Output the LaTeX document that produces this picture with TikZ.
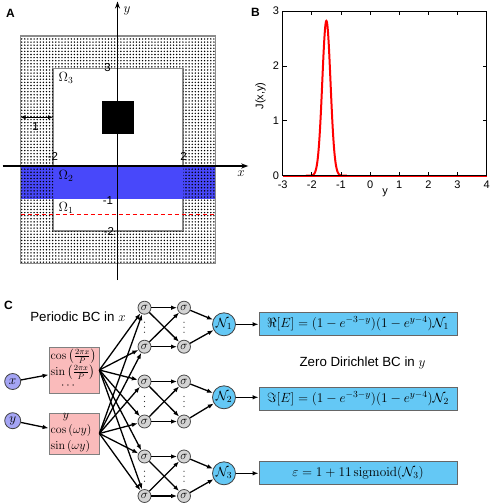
\RequirePackage{fix-cm}
\documentclass[tikz,border=0pt]{standalone}
\usepackage{amsmath}
\usepackage[no-math]{fontspec}
\setmainfont{Liberation Sans}
\usetikzlibrary{patterns,arrows.meta,calc}
\pgfdeclarepatternformonly{pmldots}{\pgfqpoint{-1.5pt}{-1.5pt}}{\pgfqpoint{1.5pt}{1.5pt}}{\pgfqpoint{3.1pt}{3.1pt}}{\pgfpathcircle{\pgfpointorigin}{0.8pt}\pgfusepath{fill}}
\definecolor{bandblue}{RGB}{72,72,250}
\definecolor{netcyan}{RGB}{100,200,245}
\definecolor{inlav}{RGB}{165,165,245}
\definecolor{boxpink}{RGB}{250,187,187}
\definecolor{siggray}{RGB}{212,212,212}
\definecolor{bordgray}{RGB}{140,140,140}
\begin{document}
\begin{tikzpicture}[x=1pt,y=-1pt,
  every node/.style={font=\fontsize{13.3}{16}\selectfont},
  panellab/.style={font=\fontsize{12}{14}\selectfont\bfseries},
  numlab/.style={font=\fontsize{11.5}{13}\selectfont,inner sep=0pt},
  ticklab/.style={font=\fontsize{11}{13}\selectfont,inner sep=0pt},
  axisline/.style={line width=1.2pt,-{Stealth[length=7pt,width=5pt]}},
  arr/.style={line width=1.3pt,-{Latex[length=6pt,width=4.5pt]}},
  inp/.style={circle,draw=black!75,fill=inlav,minimum size=16pt,inner sep=0pt,line width=0.8pt},
  sig/.style={circle,draw=black!70,fill=siggray,minimum size=13pt,inner sep=0pt,line width=0.8pt,font=\fontsize{12}{14}\selectfont},
  nnode/.style={circle,draw=black!75,fill=netcyan,minimum size=23pt,inner sep=0pt,line width=0.8pt},
  pbox/.style={rectangle,draw=black!50,fill=boxpink,minimum width=50pt,inner sep=0pt,line width=0.8pt},
  btext/.style={font=\fontsize{12}{14}\selectfont,inner sep=0pt},
  obox/.style={rectangle,draw=black!60,fill=netcyan,minimum width=198pt,minimum height=23pt,inner sep=0pt,line width=0.8pt},
  vdot/.style={fill=black!80}]
\useasboundingbox (0,0) rectangle (497,504);
\fill[white] (0,0) rectangle (497,504);

% ---------- Panel A ----------
\node[panellab] (labA) at (10.5,13) {A};
\begin{scope}[shift={(118pt,-166pt)},x=32.5pt,y=32.5pt]
  \draw[bordgray,line width=1.3pt] (-2,-2) rectangle (2,3);
  \fill[bandblue] (-3,-1) rectangle (3,0);
  \fill[pattern=pmldots,even odd rule] (-3,-3) rectangle (3,4) (-2,-2) rectangle (2,3);
  \draw[bordgray,line width=1.5pt] (-3,-3) rectangle (3,4);
  \fill[black] (-0.5,1) rectangle (0.5,2);
  \draw[red,line width=1.4pt,dash pattern=on 4pt off 3pt] (-3,-1.5) -- (3,-1.5);
  \draw[line width=1.2pt,{Latex[length=5pt,width=4.5pt]}-{Latex[length=5pt,width=4.5pt]}] (-3,1.5) -- (-2,1.5);
\end{scope}
\coordinate (xa0) at (2.7,166);
\coordinate (xa1) at (248.3,166);
\coordinate (ya0) at (117.5,280);
\coordinate (ya1) at (117.5,1.5);
\draw[axisline] (xa0) -- (xa1);
\draw[axisline] (ya0) -- (ya1);
\node[inner sep=0pt] (xlab) at (241,174) {$x$};
\node[inner sep=0pt] (ylab) at (127,11) {$y$};
\node[numlab] (n3) at (107.5,68) {3};
\node[numlab] (nm2a) at (53,156) {-2};
\node[numlab] (n2a) at (183.5,156) {2};
\node[numlab] (nm1) at (108,200.5) {-1};
\node[numlab] (nm2b) at (109,231.5) {-2};
\node[numlab] (n1) at (35.5,127) {1};
\node[inner sep=0pt] (om3) at (66,78) {$\Omega_3$};
\node[inner sep=0pt] (om2) at (66,176) {$\Omega_2$};
\node[inner sep=0pt] (om1) at (66,208) {$\Omega_1$};

% ---------- Panel B ----------
\node[panellab] (labB) at (255.5,12.5) {B};
\begin{scope}[shift={(370.1pt,-175.7pt)},x=29.14pt,y=54.9pt]
  \draw[red,line width=2pt] (-3,0) -- (4,0);
  \draw[red,line width=2pt] plot[domain=-2.2:-0.8,samples=141,smooth] (\x,{2.8209*exp(-25*(\x+1.5)*(\x+1.5))});
  \draw[line width=0.9pt] (-3,0) rectangle (4,3);
  \foreach \t in {-2,...,3} {
    \draw[line width=0.8pt] (\t,0) -- ++(0,4pt);
    \draw[line width=0.8pt] (\t,3) -- ++(0,-4pt);
  }
  \foreach \t in {1,2} {
    \draw[line width=0.8pt] (-3,\t) -- ++(4pt,0);
    \draw[line width=0.8pt] (4,\t) -- ++(-4pt,0);
  }
  \foreach \t in {0,...,3} {
    \node[ticklab,anchor=east] (yt\t) at ($(-3,\t)+(-3.5pt,0)$) {\t};
  }
  \foreach \t in {-3,...,4} {
    \node[ticklab,anchor=north] (xt\t) at ($(\t,0)+(0,-5pt)$) {\t};
  }
\end{scope}
\node[ticklab] (blaby) at (385,193) {y};
\node[ticklab,rotate=90] (blabj) at (260.5,96) {J(x,y)};

% ---------- Panel C ----------
\node[panellab] (labC) at (8.5,305) {C};
\node[anchor=base,inner sep=0pt] (pbc) at (78,321) {Periodic BC in $x$};
\node[anchor=base,inner sep=0pt] (zbc) at (362.5,366.7) {Zero Dirichlet BC in $y$};

\node[inp] (x) at (12.7,381.5) {$x$};
\node[inp] (y) at (12.7,420.7) {$y$};
\node[pbox,minimum height=46pt] (b1) at (74,370) {};
\node[pbox,minimum height=41pt] (b2) at (74,433.5) {};
\node[btext,anchor=west] (c1) at (50.5,356.7) {$\cos\left(\frac{2\pi x}{P}\right)$};
\node[btext,anchor=west] (s1) at (50.5,372.7) {$\sin\left(\frac{2\pi x}{P}\right)$};
\node[btext] (d1) at (69,386) {$\cdots$};
\node[btext] (yy) at (66,417) {$y$};
\node[btext,anchor=west] (c2) at (50.5,430) {$\cos\left(\omega y\right)$};
\node[btext,anchor=west] (s2) at (50.5,446.5) {$\sin\left(\omega y\right)$};

\foreach \i/\r in {1/307.7,2/346.7,3/381.5,4/421.5,5/456.5,6/496} {
  \node[sig] (sa\i) at (144.5,\r) {$\sigma$};
  \node[sig] (sb\i) at (184,\r) {$\sigma$};
}
\node[nnode] (N1) at (224,324.3) {$\mathcal{N}_1$};
\node[nnode] (N2) at (224,397.3) {$\mathcal{N}_2$};
\node[nnode] (N3) at (224,473.3) {$\mathcal{N}_3$};
\node[obox] (o1) at (358,323.5) {$\Re[E]=(1-e^{-3-y})(1-e^{y-4})\mathcal{N}_1$};
\node[obox] (o2) at (358,398.5) {$\Im[E]=(1-e^{-3-y})(1-e^{y-4})\mathcal{N}_2$};
\node[obox] (o3) at (358,473) {$\varepsilon=1+11\operatorname{sigmoid}(\mathcal{N}_3)$};

\foreach \a/\b in {1/2,3/4,5/6} {
  \foreach \c in {sa,sb} {
    \coordinate (m\c\a) at ($(\c\a)!0.5!(\c\b)$);
    \foreach \d in {-5,0,5} {
      \fill[vdot] ($(m\c\a)+(0,\d)$) circle (0.65pt);
    }
  }
}

\draw[arr] (x) -- (b1);
\draw[arr] (y) -- (b2);
\foreach \i in {1,...,6} {
  \draw[arr] (b1.east) -- (sa\i);
  \draw[arr] (b2.east) -- (sa\i);
}
\foreach \a/\b/\n in {1/2/1,3/4/2,5/6/3} {
  \draw[arr] (sa\a) -- (sb\a);
  \draw[arr] (sa\a) -- (sb\b);
  \draw[arr] (sa\b) -- (sb\a);
  \draw[arr] (sa\b) -- (sb\b);
  \draw[arr] (sb\a) -- (N\n);
  \draw[arr] (sb\b) -- (N\n);
  \draw[arr] (N\n) -- (N\n -| o\n.west);
}
\end{tikzpicture}
\end{document}
